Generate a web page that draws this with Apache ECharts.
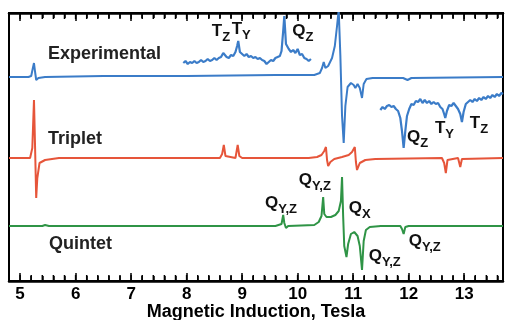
<!DOCTYPE html>
<html>
<head>
<meta charset="utf-8">
<script src="https://cdn.jsdelivr.net/npm/echarts@6/dist/echarts.min.js"></script>
<style>
html,body{margin:0;padding:0;background:#fff;}
#main{width:506px;height:320px;}
</style>
</head>
<body>
<div id="main"></div>
<script>
// field range (Tesla) and vertical offsets of the three traces
var fieldMin = 4.8, fieldMax = 13.7;
var offsets = { exp: 205, trip: 123, quin: 55 };
// minor tick positions (every 0.2 T)
var minorTicks = [5.0,5.2,5.4,5.6,5.8,6.0,6.2,6.4,6.6,6.8,7.0,7.2,7.4,7.6,7.8,8.0,8.2,8.4,8.6,8.8,9.0,9.2,9.4,9.6,9.8,
  10.0,10.2,10.4,10.6,10.8,11.0,11.2,11.4,11.6,11.8,12.0,12.2,12.4,12.6,12.8,13.0,13.2,13.4,13.6];

// experimental trace [field, intensity]
var expMain = [[4.8,-1],[5.15,-1],[5.2,0],[5.23,8],[5.25,13],[5.27,4],[5.29,-4],[5.33,-2],[5.45,-1],
  [6.5,0],[8.0,0],[9.6,1],[9.72,1],[9.75,2],[9.8,1],[10.3,1],[10.4,3],[10.44,8],[10.47,14],[10.5,8],
  [10.55,10],[10.62,18],[10.67,30],[10.71,50],[10.74,66],[10.77,20],[10.8,-40],[10.83,-67],[10.86,-30],
  [10.9,-11],[10.96,-7],[11.01,-9],[11.04,-12],[11.08,-8],[11.12,-12],[11.16,-22],[11.19,-8],[11.24,-3],
  [11.35,-2],[11.9,-2],[11.98,-4],[12.05,-2],[13.7,-1]];
// magnified low-field part of experimental trace
var expInsetLow = [[7.94,13],[7.98,15],[8.02,12],[8.06,14],[8.1,13],[8.14,15],[8.18,13],[8.22,14],[8.26,16],
  [8.3,14],[8.34,15],[8.38,17],[8.42,15],[8.46,16],[8.5,18],[8.54,16],[8.58,18],[8.62,19],[8.66,23],[8.69,25],
  [8.72,19],[8.76,18],[8.8,21],[8.84,20],[8.88,24],[8.91,30],[8.93,35],[8.96,24],[9.0,22],[9.04,20],[9.08,22],
  [9.12,19],[9.16,20],[9.2,18],[9.24,19],[9.28,17],[9.32,18],[9.36,16],[9.4,15],[9.44,12],[9.48,14],[9.52,16],
  [9.56,15],[9.6,18],[9.64,19],[9.68,20],[9.71,25],[9.74,45],[9.76,60],[9.79,32],[9.84,27],[9.88,24],[9.92,26],
  [9.96,23],[10.0,27],[10.04,21],[10.08,22],[10.12,18],[10.16,17],[10.2,15],[10.24,17]];
// magnified high-field part of experimental trace
var expInsetHigh = [[11.49,-34],[11.53,-31],[11.57,-33],[11.61,-30],[11.65,-29],[11.69,-31],[11.73,-30],
  [11.77,-33],[11.81,-35],[11.85,-42],[11.88,-55],[11.91,-72],[11.94,-55],[11.97,-40],[12.01,-33],[12.05,-28],
  [12.09,-29],[12.13,-25],[12.17,-26],[12.21,-23],[12.25,-27],[12.29,-24],[12.33,-27],[12.37,-25],[12.41,-28],
  [12.45,-26],[12.49,-28],[12.53,-27],[12.57,-31],[12.61,-33],[12.64,-38],[12.66,-42],[12.69,-35],[12.73,-29],
  [12.77,-30],[12.81,-27],[12.85,-30],[12.89,-33],[12.93,-38],[12.96,-46],[12.99,-36],[13.03,-28],[13.07,-26],
  [13.11,-24],[13.15,-26],[13.19,-23],[13.23,-25],[13.27,-22],[13.31,-24],[13.35,-21],[13.39,-23],[13.43,-20],
  [13.47,-22],[13.51,-19],[13.55,-21],[13.59,-18],[13.63,-20],[13.67,-17],[13.7,-18]];
// simulated triplet
var triplet = [[4.8,0],[5.18,0],[5.22,10],[5.25,58],[5.27,10],[5.29,-40],[5.31,-20],[5.35,-5],[5.45,-2],[5.7,0],
  [8.6,0],[8.64,4],[8.67,13],[8.7,2],[8.73,0],[8.88,0],[8.92,13],[8.95,2],[9.0,0],[10.2,0],[10.35,1],[10.43,3],
  [10.48,7],[10.51,11],[10.53,-2],[10.55,-8],[10.59,-4],[10.66,-1],[10.8,1],[10.92,3],[10.98,6],[11.03,11],
  [11.05,-4],[11.07,-12],[11.12,-5],[11.22,-2],[11.4,-1],[12.6,0],[12.64,-5],[12.67,-15],[12.7,-2],[12.89,0],
  [12.93,-9],[12.96,-1],[13.7,0]];
// simulated quintet
var quintet = [[4.8,0],[5.4,0],[5.45,1],[5.48,-1],[5.52,0],[9.6,0],[9.71,2],[9.74,11],[9.76,3],[9.79,-2],[9.83,0],
  [10.3,1],[10.38,4],[10.43,10],[10.46,29],[10.48,12],[10.52,9],[10.6,9],[10.68,11],[10.74,15],[10.78,25],
  [10.8,49],[10.82,10],[10.84,-20],[10.88,-31],[10.91,-18],[10.96,-8],[11.02,-6],[11.08,-10],[11.12,-20],
  [11.16,-44],[11.19,-15],[11.23,-4],[11.3,-1],[11.5,0],[11.85,0],[11.88,-3],[11.91,-8],[11.94,-1],[12.0,0],[13.7,0]];

// peak labels: [field, height, main letter, subscript]
var peakLabels = [
  [8.64, 250, 'T', 'Z'], [9.0, 252, 'T', 'Y'], [10.14, 250, 'Q', 'Z'],
  [12.21, 144, 'Q', 'Z'], [12.66, 153, 'T', 'Y'], [13.29, 158, 'T', 'Z'],
  [9.65, 78, 'Q', 'Y,Z'], [10.26, 101, 'Q', 'Y,Z'], [11.16, 73, 'Q', 'X'],
  [11.52, 25, 'Q', 'Y,Z'], [12.24, 40, 'Q', 'Y,Z']
];

var yTop = 268;

function shift(arr, off) {
  return arr.map(function (p) { return [p[0], p[1] + off]; });
}

var myChart = echarts.init(document.getElementById('main'));
var font = '"Liberation Sans", Arial, sans-serif';

// x axis with major ticks every 1 T
function fieldAxis(pos, labels) {
  var ax = {
    type: 'value', min: fieldMin, max: fieldMax, position: pos, splitNumber: 9,
    axisLine: { show: true, onZero: false, lineStyle: { color: '#000', width: 2.5 } },
    axisTick: { show: true, inside: true, length: 8, lineStyle: { color: '#000', width: 1.5 } },
    minorTick: { show: true, splitNumber: 5, length: 5, lineStyle: { color: '#000', width: 1.5 } },
    splitLine: { show: false },
    axisLabel: { show: false }
  };
  if (labels) {
    ax.axisLabel = {
      show: true, color: '#000', fontFamily: font, fontWeight: 'bold', fontSize: 17, margin: 5,
      showMinLabel: false, showMaxLabel: false,
      formatter: function (v) { return Math.abs(v - Math.round(v)) < 1e-6 ? String(Math.round(v)) : ''; }
    };
    ax.name = 'Magnetic Induction, Tesla';
    ax.nameLocation = 'middle';
    ax.nameGap = 22;
    ax.nameMoveOverlap = false;
    ax.nameTextStyle = { color: '#000', fontFamily: font, fontWeight: 'bold', fontSize: 18, verticalAlign: 'top' };
  }
  return ax;
}

function lineSeries(data, color, w) {
  return {
    type: 'line', data: data, showSymbol: false, symbol: 'none', clip: true,
    lineStyle: { color: color, width: w }, silent: true
  };
}

option = {
  animation: false,
  grid: { left: 9, right: 3, top: 13, bottom: 39, outerBoundsMode: 'none', containLabel: false,
    show: true, borderColor: '#000', borderWidth: 2 },
  xAxis: [fieldAxis('bottom', true), fieldAxis('top', false)],
  yAxis: {
    type: 'value', min: 0, max: yTop,
    axisLine: { show: true, lineStyle: { color: '#000', width: 2 } },
    axisTick: { show: false }, axisLabel: { show: false }, splitLine: { show: false }
  },
  series: [
    lineSeries(shift(expMain, offsets.exp), '#3b7cc8', 2),
    lineSeries(shift(expInsetLow, offsets.exp), '#3b7cc8', 2.2),
    lineSeries(shift(expInsetHigh, offsets.exp), '#3b7cc8', 2.2),
    lineSeries(shift(triplet, offsets.trip), '#e6553a', 2),
    lineSeries(shift(quintet, offsets.quin), '#2f9446', 2),
    {
      // short minor ticks on the bottom and top frame
      type: 'custom', silent: true, clip: false, z: 10,
      encode: { x: 0, y: 1 },
      data: minorTicks.map(function (v) { return [v, 0]; }),
      renderItem: function (params, api) {
        var b = api.coord([api.value(0), 0]);
        var t = api.coord([api.value(0), yTop]);
        return {
          type: 'group', children: [
            { type: 'rect', shape: { x: b[0] - 0.75, y: b[1] - 6, width: 1.5, height: 6 }, style: { fill: '#000' } },
            { type: 'rect', shape: { x: t[0] - 0.75, y: t[1], width: 1.5, height: 6 }, style: { fill: '#000' } }
          ]
        };
      }
    }
  ]
};
myChart.setOption(option);

// trace names and peak labels
var gfx = [
  { type: 'text', left: 48, top: 45, style: { text: 'Experimental', font: 'bold 18px ' + font, fill: '#222' } },
  { type: 'text', left: 48, top: 130, style: { text: 'Triplet', font: 'bold 18px ' + font, fill: '#222' } },
  { type: 'text', left: 49, top: 235, style: { text: 'Quintet', font: 'bold 18px ' + font, fill: '#222' } }
];
peakLabels.forEach(function (l) {
  var p = myChart.convertToPixel({ xAxisIndex: 0, yAxisIndex: 0 }, [l[0], l[1]]);
  gfx.push({ type: 'text', x: p[0], y: p[1], style: { text: l[2], font: 'bold 17px ' + font, fill: '#111', align: 'right', verticalAlign: 'middle' } });
  gfx.push({ type: 'text', x: p[0], y: p[1] + 6, style: { text: l[3], font: 'bold 13px ' + font, fill: '#111', align: 'left', verticalAlign: 'middle' } });
});
myChart.setOption({ graphic: gfx });
</script>
</body>
</html>
